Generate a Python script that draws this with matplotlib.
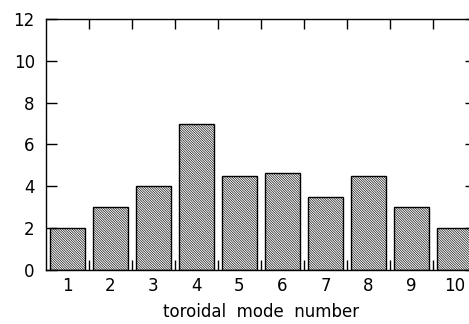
import numpy as np
import matplotlib
matplotlib.use("Agg")
import matplotlib.pyplot as plt

# toroidal mode numbers and counts
modes = [1, 2, 3, 4, 5, 6, 7, 8, 9, 10]
counts = [2.0, 3.0, 4.0, 7.0, 4.5, 4.65, 3.5, 4.5, 3.0, 2.0]
y_ticks = [0, 2, 4, 6, 8, 10, 12]

plt.rcParams['hatch.color'] = '#8a8a8a'
plt.rcParams['hatch.linewidth'] = 0.45

fig = plt.figure(figsize=(4.69, 3.24), dpi=100)
ax = fig.add_axes([0.098, 0.1667, 0.917, 0.7747])

ax.bar(modes, counts, width=0.8, facecolor='white', edgecolor='black',
       linewidth=1.0, hatch='\\' * 14)

ax.set_xlim(0.5, 10.5)
ax.set_ylim(0, 12)
ax.set_yticks(y_ticks)
ax.set_xticks(modes)
ax.set_xticks(np.arange(1.5, 10.5, 1), minor=True)

ax.tick_params(axis='x', which='major', length=0, labelsize=12, pad=5)
ax.tick_params(axis='x', which='minor', direction='in', length=7, width=1,
               top=True, bottom=True)
ax.tick_params(axis='y', which='major', direction='in', length=8, width=1,
               left=True, right=True, labelsize=12, pad=8)

for s in ax.spines.values():
    s.set_linewidth(1.0)

ax.set_xlabel('toroidal  mode  number', fontsize=12, labelpad=6)

fig.savefig('out.png', dpi=100)
